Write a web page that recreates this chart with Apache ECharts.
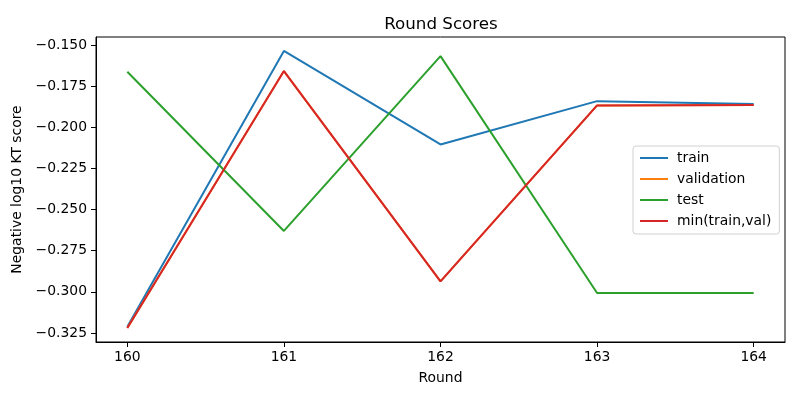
<!DOCTYPE html>
<html>
<head>
<meta charset="utf-8">
<script src="https://cdn.jsdelivr.net/npm/echarts@6/dist/echarts.min.js"></script>
<style>html,body{margin:0;padding:0;background:#fff;}#c{width:800px;height:400px;}</style>
</head>
<body>
<div id="c"></div>
<script>
const rounds = [160, 161, 162, 163, 164];
const train = [-0.3213, -0.1536, -0.2104, -0.1841, -0.1859];
const validation = [-0.3220, -0.1658, -0.2936, -0.1867, -0.1865];
const test = [-0.1662, -0.2630, -0.1567, -0.3007, -0.3007];
const minTrainVal = [-0.3220, -0.1658, -0.2936, -0.1867, -0.1865];
const xTicks = [160, 161, 162, 163, 164];
const yTicks = [-0.325, -0.300, -0.275, -0.250, -0.225, -0.200, -0.175, -0.150];

const font = 'DejaVu Sans';
function pairs(vals) { return rounds.map((r, i) => [r, vals[i]]); }
function fmtY(v) { const s = Math.abs(v).toFixed(3); return (v < 0 ? '\u2212' : '') + s; }

const chart = echarts.init(document.getElementById('c'), null, {renderer: 'canvas'});
const mk = (name, vals, color) => ({
  name, type: 'line', data: pairs(vals), showSymbol: false, symbol: 'none',
  lineStyle: {color, width: 2}, itemStyle: {color}, animation: false
});
chart.setOption({
  animation: false,
  backgroundColor: '#fff',
  title: {
    text: 'Round Scores', left: 436, top: 11, textAlign: 'center',
    textStyle: {fontFamily: font, fontSize: 16.7, fontWeight: 'normal', color: '#000'}
  },
  grid: {left: 96, right: 15, top: 37, bottom: 58, show: true, borderColor: '#000', borderWidth: 1, containLabel: false},
  legend: {
    orient: 'vertical', left: 633, top: 146,
    data: ['train', 'validation', 'test', 'min(train,val)'],
    icon: 'rect', itemWidth: 28, itemHeight: 2, itemGap: 7,
    padding: [5, 8, 6, 7],
    borderColor: '#d0d0d0', borderWidth: 1, borderRadius: 3,
    backgroundColor: 'rgba(255,255,255,0.8)',
    textStyle: {fontFamily: font, fontSize: 13.9, color: '#000', lineHeight: 14, padding: [0, 0, 0, 4]}
  },
  xAxis: {
    type: 'value', min: 159.8, max: 164.2,
    name: 'Round', nameLocation: 'middle', nameGap: 29,
    nameTextStyle: {fontFamily: font, fontSize: 13.9, color: '#000'},
    axisLine: {show: true, lineStyle: {color: '#000', width: 1}},
    axisTick: {show: true, inside: false, length: 5, lineStyle: {color: '#000'}, customValues: xTicks},
    axisLabel: {fontFamily: font, fontSize: 13.9, color: '#000', margin: 8, customValues: xTicks, formatter: v => String(v)},
    splitLine: {show: false}
  },
  yAxis: {
    type: 'value', min: -0.3305, max: -0.1451,
    name: 'Negative log10 KT score', nameLocation: 'middle', nameGap: 69, nameRotate: 90,
    nameTextStyle: {fontFamily: font, fontSize: 13.9, color: '#000'},
    axisLine: {show: true, lineStyle: {color: '#000', width: 1}},
    axisTick: {show: true, inside: false, length: 5, lineStyle: {color: '#000'}, customValues: yTicks},
    axisLabel: {fontFamily: font, fontSize: 13.9, color: '#000', margin: 9, customValues: yTicks, formatter: v => fmtY(v)},
    splitLine: {show: false}
  },
  series: [
    mk('train', train, '#1f77b4'),
    mk('validation', validation, '#ff7f0e'),
    mk('test', test, '#2ca02c'),
    mk('min(train,val)', minTrainVal, '#d62728')
  ]
});
</script>
</body>
</html>
